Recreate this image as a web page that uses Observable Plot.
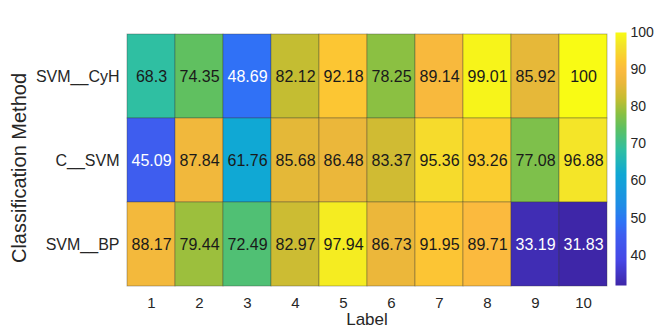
<!DOCTYPE html>
<html>
<head>
<meta charset="utf-8">
<script src="https://cdn.jsdelivr.net/npm/d3@7"></script>
<script src="https://cdn.jsdelivr.net/npm/@observablehq/plot@0.6"></script>
<style>
  html, body { margin: 0; padding: 0; background: #fff; }
  #wrap { position: relative; width: 654px; height: 334px; overflow: hidden; }
  #main { position: absolute; left: 0; top: 0; }
  #bar { position: absolute; left: 612px; top: 0; }
</style>
</head>
<body>
<div id="wrap"><div id="main"></div><div id="bar"></div></div>
<script>
const labels = [1, 2, 3, 4, 5, 6, 7, 8, 9, 10];
const methods = ["SVM__CyH", "C__SVM", "SVM__BP"];
const svmCyH = [68.3, 74.35, 48.69, 82.12, 92.18, 78.25, 89.14, 99.01, 85.92, 100];
const cSvm   = [45.09, 87.84, 61.76, 85.68, 86.48, 83.37, 95.36, 93.26, 77.08, 96.88];
const svmBp  = [88.17, 79.44, 72.49, 82.97, 97.94, 86.73, 91.95, 89.71, 33.19, 31.83];
const colorbarTicks = [40, 50, 60, 70, 80, 90, 100];
// parula-like colormap stops (position in [0,1], colour)
const parulaPos = [0, 0.1, 0.2, 0.25, 0.32, 0.44, 0.535, 0.62, 0.68, 0.74, 0.8, 0.85, 0.89, 0.95, 1];
const parulaCol = ["#3e26a8", "#4747e6", "#3e5ef0", "#2f72f6", "#1f8ee6", "#10a8d4", "#2fbfa2", "#5dc062", "#8ac042", "#c6bd31", "#eab73a", "#fbba3e", "#fcc831", "#f3e32a", "#f9fb14"];

const series = [svmCyH, cSvm, svmBp];
const data = [];
methods.forEach((m, i) => labels.forEach((l, j) => data.push({method: m, label: l, value: series[i][j]})));
const vmin = d3.min(data, d => d.value), vmax = d3.max(data, d => d.value);
const parula = d3.scaleLinear().domain(parulaPos).range(parulaCol).interpolate(d3.interpolateRgb).clamp(true);
const colorOpts = {type: "linear", domain: [vmin, vmax], interpolate: t => parula(t)};
const font = "'Liberation Sans', Arial, Helvetica, sans-serif";

const main = Plot.plot({
  width: 612, height: 334,
  marginLeft: 124, marginRight: 3, marginTop: 33, marginBottom: 48,
  style: {fontFamily: font, fontSize: "16px", color: "#262626", background: "#fff"},
  x: {type: "band", domain: labels, padding: 0, label: null},
  y: {type: "band", domain: methods, padding: 0, label: null},
  color: colorOpts,
  marks: [
    Plot.cell(data, {x: "label", y: "method", fill: "value", stroke: "#3a3a3a", strokeOpacity: 0.45, strokeWidth: 0.8}),
    Plot.text(data.filter(d => d.value >= 55), {x: "label", y: "method", text: d => String(d.value), fill: "#1a1a1a", fontSize: 16}),
    Plot.text(data.filter(d => d.value < 55), {x: "label", y: "method", text: d => String(d.value), fill: "#ffffff", fontSize: 16}),
    Plot.axisX({tickSize: 0, tickPadding: 11, fontSize: 15, label: null}),
    Plot.axisY({tickSize: 0, tickPadding: 5, fontSize: 16, label: null}),
    Plot.text(["Label"], {frameAnchor: "bottom", lineAnchor: "middle", dy: 33, text: d => d, fontSize: 17, fill: "#262626"}),
    Plot.text(["Classification Method"], {frameAnchor: "left", textAnchor: "middle", lineAnchor: "middle", dx: -105, dy: 8, rotate: -90, text: d => d, fontSize: 20, fill: "#262626"})
  ]
});
document.getElementById("main").appendChild(main);

const bar = Plot.plot({
  width: 42, height: 334,
  marginLeft: 3, marginRight: 28, marginTop: 32, marginBottom: 49,
  style: {fontFamily: font, fontSize: "14px", color: "#262626", background: "transparent"},
  x: {domain: [0, 1], axis: null},
  y: {domain: [vmin, vmax], label: null},
  color: colorOpts,
  marks: [
    Plot.raster({fill: (x, y) => y, x1: 0, x2: 1, y1: vmin, y2: vmax, width: 1, height: 253, interpolate: null}),
    Plot.axisY({anchor: "right", ticks: colorbarTicks, tickSize: 0, tickPadding: 4, label: null})
  ]
});
document.getElementById("bar").appendChild(bar);
</script>
</body>
</html>
